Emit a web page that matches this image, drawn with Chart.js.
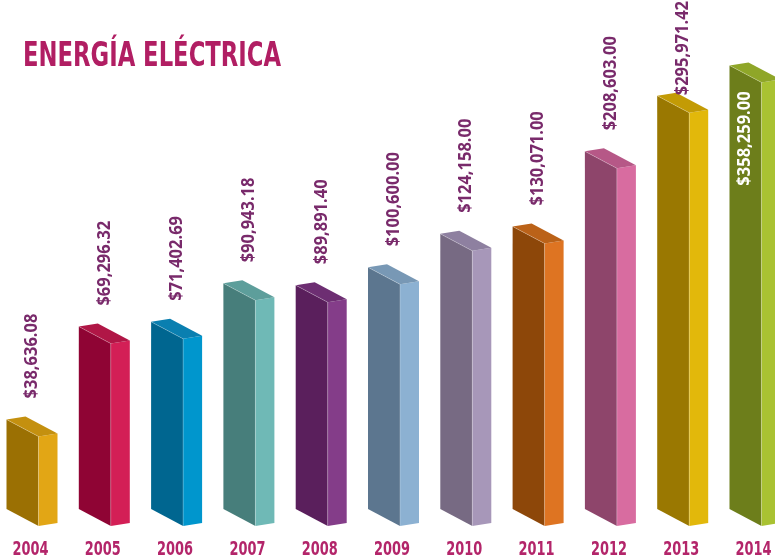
<!DOCTYPE html>
<html>
<head>
<meta charset="utf-8">
<script src="https://cdn.jsdelivr.net/npm/chart.js@4.4.1/dist/chart.umd.min.js"></script>
<style>
  html, body { margin: 0; padding: 0; background: #ffffff; overflow: hidden; }
  #chart { display: block; }
</style>
</head>
<body>
<canvas id="chart" width="775" height="560"></canvas>
<script>
// data
var years = ['2004', '2005', '2006', '2007', '2008', '2009', '2010', '2011', '2012', '2013', '2014'];
var amounts = [38636.08, 69296.32, 71402.69, 90943.18, 89891.40, 100600.00, 124158.00, 130071.00, 208603.00, 295971.42, 358259.00];

// face colours of each 3d bar
var frontColors = ['#9b7003', '#8f0434', '#006690', '#477e7b', '#5a1f5c', '#5c768f', '#776a83', '#8d4709', '#8e456b', '#9a7801', '#6d7e1b'];
var sideColors  = ['#e2a615', '#d31f56', '#0096cd', '#6fb9b6', '#843d89', '#8cb1d2', '#a797b9', '#de7422', '#d86ca0', '#e2b80b', '#a9c232'];
var topColors   = ['#c4900f', '#b01646', '#0a7fb0', '#5d9e9b', '#6d2e72', '#7898b5', '#8e80a0', '#bb6218', '#b65887', '#c39b05', '#8fa628'];

var TITLE = 'ENERGÍA ELÉCTRICA';
var narrow = '"Liberation Sans Narrow", "DejaVu Sans Condensed", sans-serif';

var fmt = function (v) {
    return '$' + v.toLocaleString('en-US', {minimumFractionDigits: 2, maximumFractionDigits: 2});
};

var poly = function (ctx, pts, color) {
    ctx.beginPath();
    ctx.moveTo(pts[0][0], pts[0][1]);
    for (let i = 1; i < pts.length; ++i) {
        ctx.lineTo(pts[i][0], pts[i][1]);
    }
    ctx.closePath();
    ctx.fillStyle = color;
    ctx.fill();
};

var bars3d = {
    id: 'bars3d',
    afterDatasetsDraw: function (chart) {
        var ctx = chart.ctx;
        var meta = chart.getDatasetMeta(0);
        var faceW = 32, sideW = 19, drop = 17, rise = 3;
        var maxIdx = amounts.indexOf(Math.max.apply(null, amounts));

        ctx.save();
        meta.data.forEach(function (bar, i) {
            var x0 = bar.x - (faceW + sideW) / 2;
            var top = bar.y;
            var h = bar.base - bar.y;
            var p0 = [x0, top];
            var p1 = [x0 + faceW, top + drop];
            var p2 = [x0 + faceW + sideW, top + drop - rise];
            var p3 = [x0 + sideW, top - rise];

            poly(ctx, [p0, p1, [p1[0], p1[1] + h], [p0[0], p0[1] + h]], frontColors[i]);
            poly(ctx, [p1, p2, [p2[0], p2[1] + h], [p1[0], p1[1] + h]], sideColors[i]);
            poly(ctx, [p0, p3, p2, p1], topColors[i]);

            // faint highlight on the edges
            ctx.beginPath();
            ctx.moveTo(p0[0], p0[1]);
            ctx.lineTo(p1[0], p1[1]);
            ctx.lineTo(p1[0], p1[1] + h);
            ctx.strokeStyle = 'rgba(255,255,255,0.3)';
            ctx.lineWidth = 0.8;
            ctx.stroke();
        });
        ctx.restore();

        // value labels, rotated
        var squeeze = 0.97;
        ctx.save();
        ctx.font = 'bold 17px "Open Sans", sans-serif';
        ctx.textBaseline = 'middle';
        meta.data.forEach(function (bar, i) {
            var txt = fmt(amounts[i]);
            var w = ctx.measureText(txt).width * squeeze;
            var x0 = bar.x - 25.5;
            ctx.save();
            if (i === maxIdx) {
                ctx.translate(x0 + 16, bar.y + 26);
                ctx.rotate(-Math.PI / 2);
                ctx.scale(squeeze, 1);
                ctx.textAlign = 'right';
                ctx.fillStyle = '#ffffff';
            } else {
                var bottom = Math.max(bar.y - 21, w + 1);
                ctx.translate(bar.x + 0.5, bottom);
                ctx.rotate(-Math.PI / 2);
                ctx.scale(squeeze, 1);
                ctx.textAlign = 'left';
                ctx.fillStyle = '#792a6b';
            }
            ctx.fillText(txt, 0, 0);
            ctx.restore();
        });
        ctx.restore();

        // year labels
        ctx.save();
        ctx.font = 'bold 20px ' + narrow;
        ctx.fillStyle = '#b3256a';
        ctx.textAlign = 'center';
        ctx.textBaseline = 'alphabetic';
        var ys = 36 / ctx.measureText('2004').width;
        meta.data.forEach(function (bar, i) {
            ctx.save();
            ctx.translate(bar.x - 1.5, 555);
            ctx.scale(ys, 1);
            ctx.fillText(years[i], 0, 0);
            ctx.restore();
        });
        ctx.restore();

        // title
        ctx.save();
        ctx.font = 'bold 34px ' + narrow;
        var tw = ctx.measureText(TITLE).width;
        ctx.translate(23, 66);
        ctx.scale(258 / tw, 1);
        ctx.fillStyle = '#b11e63';
        ctx.textBaseline = 'alphabetic';
        ctx.fillText(TITLE, 0, 0);
        ctx.restore();
    }
};

var chart = new Chart(document.getElementById('chart'), {
    type: 'bar',
    data: {
        labels: years,
        datasets: [{
            data: amounts,
            backgroundColor: 'rgba(0,0,0,0)',
            borderWidth: 0,
            barThickness: 51
        }]
    },
    options: {
        responsive: false,
        animation: false,
        layout: { padding: { left: 32, right: 20, top: 42, bottom: 51 } },
        plugins: {
            legend: { display: false },
            tooltip: { enabled: false }
        },
        scales: {
            x: { type: 'category', offset: false, display: false },
            y: { type: 'logarithmic', min: 22000, max: 415000, display: false }
        }
    },
    plugins: [bars3d]
});
</script>
</body>
</html>
